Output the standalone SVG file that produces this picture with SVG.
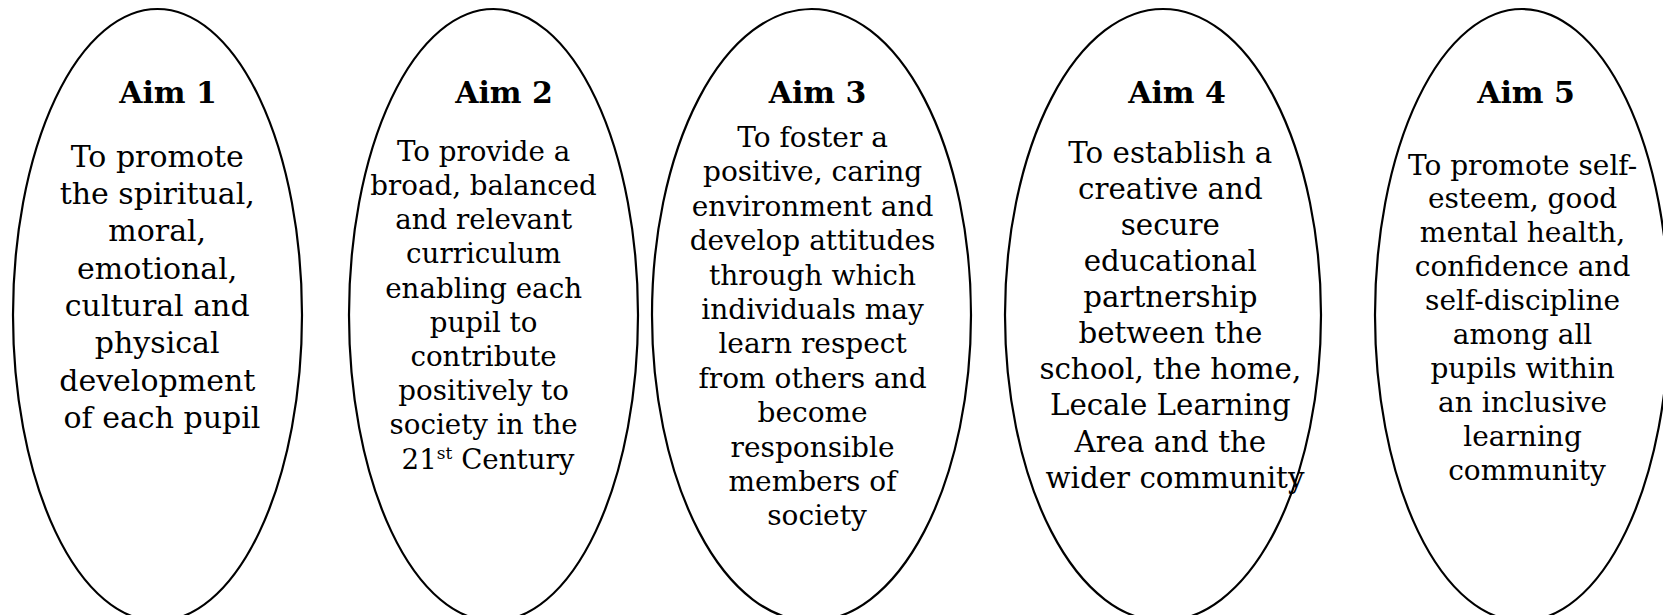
<svg xmlns="http://www.w3.org/2000/svg" width="1663" height="615" viewBox="0 0 1663 615">
<style>
.oval{fill:#fff;stroke:#000;stroke-width:2.2}
.h{font-family:"DejaVu Serif","Liberation Serif",serif;font-weight:bold;font-size:30px;fill:#000;text-anchor:middle}
.t{font-family:"DejaVu Serif","Liberation Serif",serif;fill:#000;text-anchor:middle}
</style>
<rect width="1663" height="615" fill="#fff"/>
<g id="connectors"/>
<g id="aim1">
<ellipse class="oval" cx="157.5" cy="315" rx="144.5" ry="306"/>
<text class="h" x="168" y="103">Aim 1</text>
<text class="t" font-size="30" x="162" y="166.7">
<tspan x="162">To promote</tspan>
<tspan x="162" dy="37.3">the spiritual,</tspan>
<tspan x="162" dy="37.3">moral,</tspan>
<tspan x="162" dy="37.3">emotional,</tspan>
<tspan x="162" dy="37.3">cultural and</tspan>
<tspan x="162" dy="37.3">physical</tspan>
<tspan x="162" dy="37.3">development</tspan>
<tspan x="162" dy="37.3">of each pupil</tspan>
</text>
</g>
<g id="aim2">
<ellipse class="oval" cx="493.5" cy="315" rx="144.5" ry="306"/>
<text class="h" x="504" y="103">Aim 2</text>
<text class="t" font-size="27.7" x="488" y="160.8">
<tspan x="488">To provide a</tspan>
<tspan x="488" dy="34.2">broad, balanced</tspan>
<tspan x="488" dy="34.2">and relevant</tspan>
<tspan x="488" dy="34.2">curriculum</tspan>
<tspan x="488" dy="34.2">enabling each</tspan>
<tspan x="488" dy="34.2">pupil to</tspan>
<tspan x="488" dy="34.2">contribute</tspan>
<tspan x="488" dy="34.2">positively to</tspan>
<tspan x="488" dy="34.2">society in the</tspan>
<tspan x="488" dy="34.2">21<tspan font-size="17" dy="-10">st</tspan><tspan dy="10"> Century</tspan></tspan>
</text>
</g>
<g id="aim3">
<ellipse class="oval" cx="811.5" cy="315" rx="159.5" ry="306"/>
<text class="h" x="817.5" y="103">Aim 3</text>
<text class="t" font-size="28" x="817" y="147">
<tspan x="817">To foster a</tspan>
<tspan x="817" dy="34.4">positive, caring</tspan>
<tspan x="817" dy="34.4">environment and</tspan>
<tspan x="817" dy="34.4">develop attitudes</tspan>
<tspan x="817" dy="34.4">through which</tspan>
<tspan x="817" dy="34.4">individuals may</tspan>
<tspan x="817" dy="34.4">learn respect</tspan>
<tspan x="817" dy="34.4">from others and</tspan>
<tspan x="817" dy="34.4">become</tspan>
<tspan x="817" dy="34.4">responsible</tspan>
<tspan x="817" dy="34.4">members of</tspan>
<tspan x="817" dy="34.4">society</tspan>
</text>
</g>
<g id="aim4">
<ellipse class="oval" cx="1163" cy="315" rx="158" ry="306"/>
<text class="h" x="1177" y="103">Aim 4</text>
<text class="t" font-size="29.3" x="1175" y="162.7">
<tspan x="1175">To establish a</tspan>
<tspan x="1175" dy="36.1">creative and</tspan>
<tspan x="1175" dy="36.1">secure</tspan>
<tspan x="1175" dy="36.1">educational</tspan>
<tspan x="1175" dy="36.1">partnership</tspan>
<tspan x="1175" dy="36.1">between the</tspan>
<tspan x="1175" dy="36.1">school, the home,</tspan>
<tspan x="1175" dy="36.1">Lecale Learning</tspan>
<tspan x="1175" dy="36.1">Area and the</tspan>
<tspan x="1175" dy="36.1">wider community</tspan>
</text>
</g>
<g id="aim5">
<ellipse class="oval" cx="1522" cy="315" rx="147" ry="306"/>
<text class="h" x="1526" y="103">Aim 5</text>
<text class="t" font-size="28" x="1527" y="174.5">
<tspan x="1527">To promote self-</tspan>
<tspan x="1527" dy="33.9">esteem, good</tspan>
<tspan x="1527" dy="33.9">mental health,</tspan>
<tspan x="1527" dy="33.9">confidence and</tspan>
<tspan x="1527" dy="33.9">self-discipline</tspan>
<tspan x="1527" dy="33.9">among all</tspan>
<tspan x="1527" dy="33.9">pupils within</tspan>
<tspan x="1527" dy="33.9">an inclusive</tspan>
<tspan x="1527" dy="33.9">learning</tspan>
<tspan x="1527" dy="33.9">community</tspan>
</text>
</g>
</svg>
